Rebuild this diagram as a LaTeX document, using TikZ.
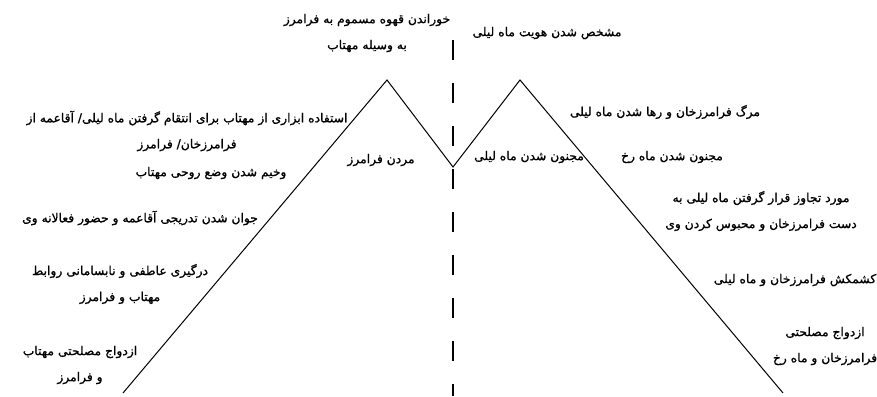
\documentclass[tikz,border=0pt]{standalone}
\usepackage{fontspec}
\usepackage{tikz}
\usetikzlibrary{positioning}
\TeXXeTstate=1
\newfontfamily\arabicfont[Script=Arabic, FakeBold=1]{DejaVu Sans}
\newcommand{\fa}[1]{{\arabicfont\beginR #1\endR}}
\tikzset{
    event/.style={font=\fontsize{12.3}{26}\selectfont, align=center, inner sep=1pt},
    plotline/.style={line width=1pt, black, line join=miter},
    splitline/.style={line width=1.2pt, black, dash pattern=on 20pt off 23pt}
}

\begin{document}
\begin{tikzpicture}[x=1pt, y=-1pt]
    \useasboundingbox (0,0) rectangle (877,396);

    % ===== Zigzag curve =====
    \coordinate (start) at (123,393);
    \coordinate (peakL) at (387,80);
    \coordinate (valley) at (453,167);
    \coordinate (peakR) at (520,80);
    \coordinate (stop) at (783,393);
    \draw[plotline] (start) -- (peakL) -- (valley) -- (peakR) -- (stop);

    % ===== Divider =====
    \coordinate (divtop) at (453,40);
    \coordinate (divbot) at (453,396);
    \draw[splitline] (divtop) -- (divbot);

    % ===== Top labels =====
    \node[event] (poison) at (367,33) {\fa{خوراندن قهوه مسموم به فرامرز}\\\fa{به وسیله مهتاب}};
    \node[event] (identity) at (547,33) {\fa{مشخص شدن هویت ماه لیلی}};

    % ===== Left side =====
    \node[event] (revenge) at (187,131) {\fa{استفاده ابزاری از مهتاب برای انتقام گرفتن ماه لیلی/ آقاعمه از}\\\fa{فرامرزخان/ فرامرز}};
    \node[event] (worse) at (211,173) {\fa{وخیم شدن وضع روحی مهتاب}};
    \node[event] (dying) at (381,160) {\fa{مردن فرامرز}};
    \node[event] (young) at (140,218) {\fa{جوان شدن تدریجی آقاعمه و حضور فعالانه وی}};
    \node[event] (conflictL) at (120,284) {\fa{درگیری عاطفی و نابسامانی روابط}\\\fa{مهتاب و فرامرز}};
    \node[event] (marriageL) at (80,365) {\fa{ازدواج مصلحتی مهتاب}\\\fa{و فرامرز}};

    % ===== Right side =====
    \node[event] (madL) at (529,157) {\fa{مجنون شدن ماه لیلی}};
    \node[event] (madR) at (672,157) {\fa{مجنون شدن ماه رخ}};
    \node[event] (death) at (665,112) {\fa{مرگ فرامرزخان و رها شدن ماه لیلی}};
    \node[event] (assault) at (761,211) {\fa{مورد تجاوز قرار گرفتن ماه لیلی به}\\\fa{دست فرامرزخان و محبوس کردن وی}};
    \node[event] (struggle) at (795,280) {\fa{کشمکش فرامرزخان و ماه لیلی}};
    \node[event] (marriageR) at (825,346) {\fa{ازدواج مصلحتی}\\\fa{فرامرزخان و ماه رخ}};

\end{tikzpicture}
\end{document}
